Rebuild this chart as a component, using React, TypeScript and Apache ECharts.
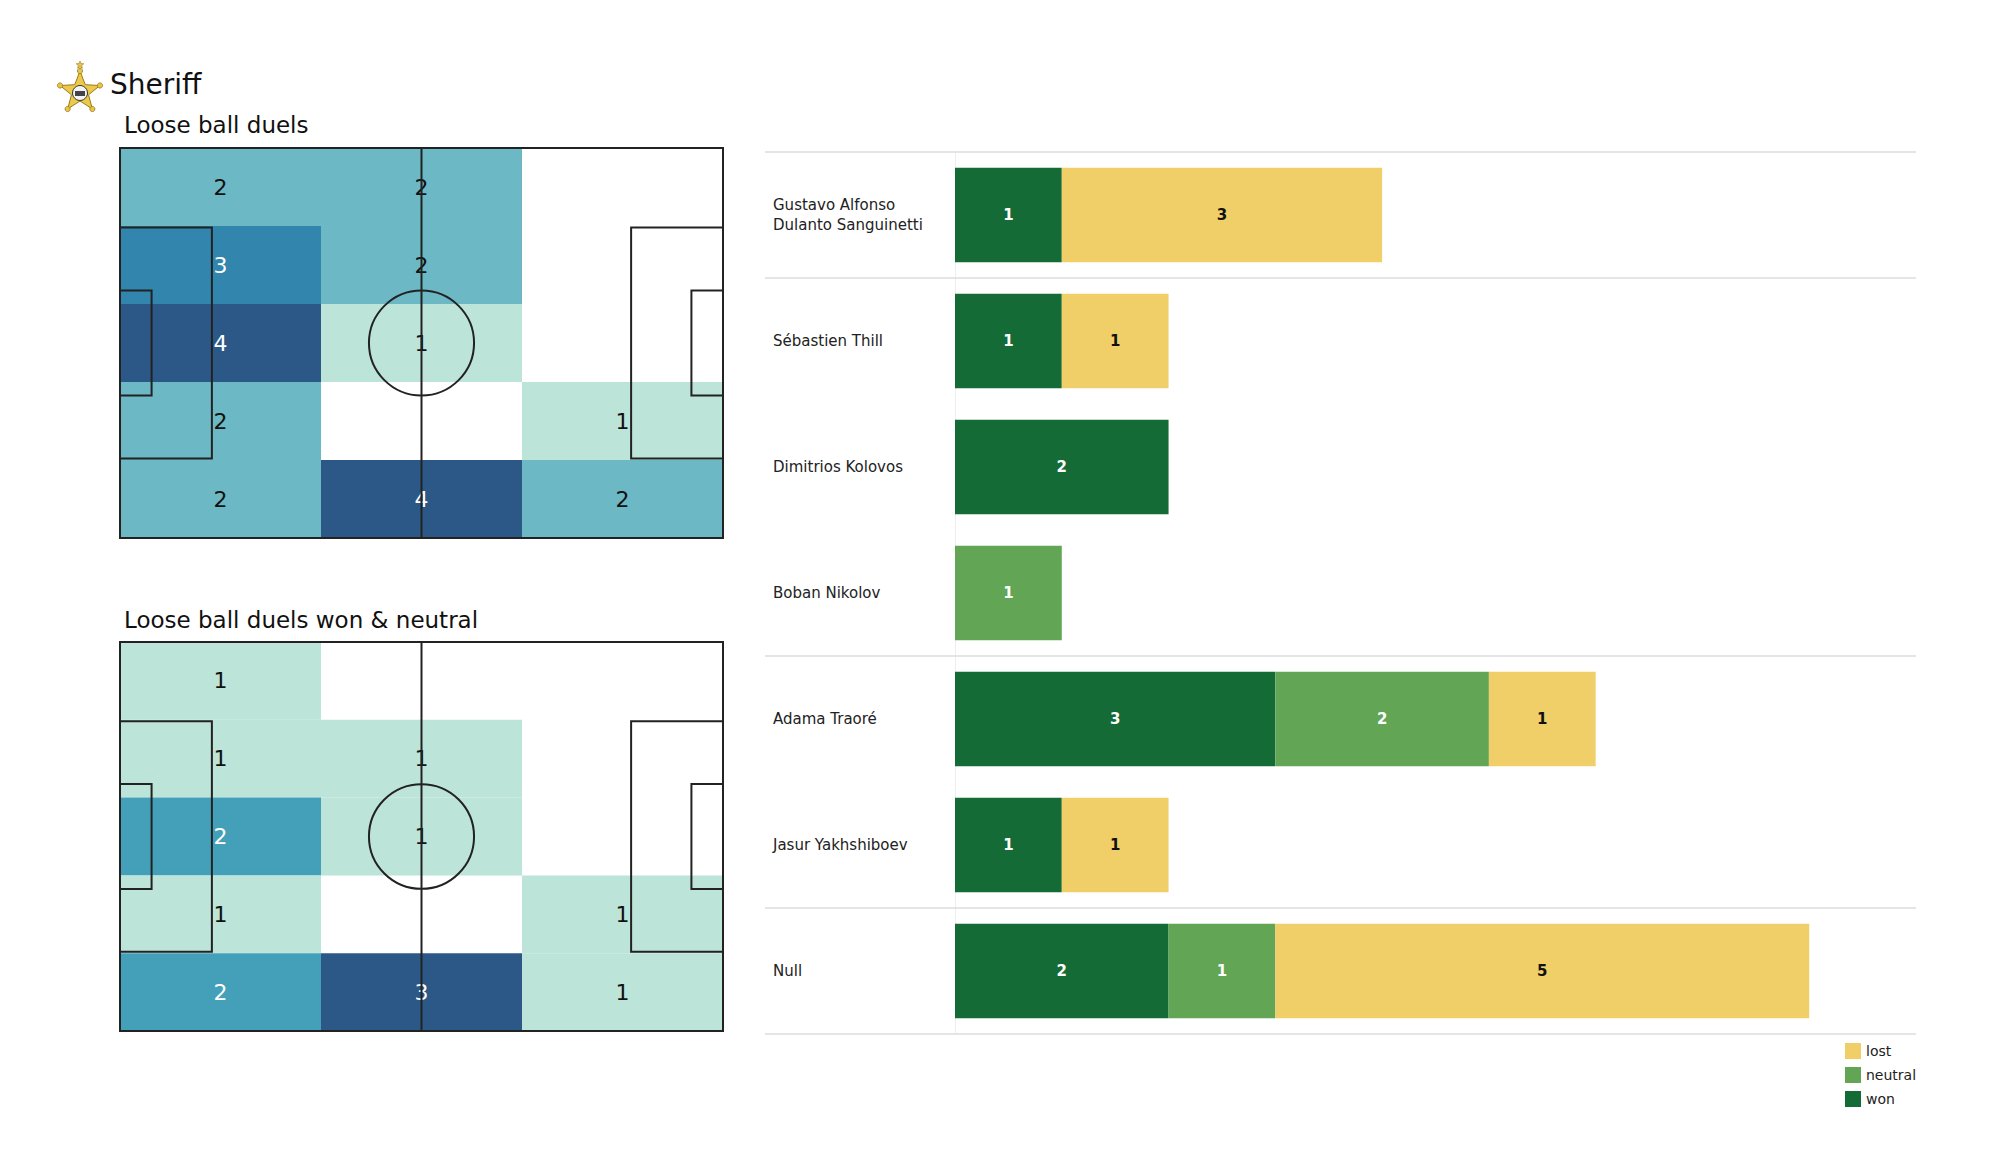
import React, { useEffect, useRef } from "react";
import * as echarts from "echarts";

// ---------- data ----------
const TEAM = "Sheriff";
const PITCH_TITLES = ["Loose ball duels", "Loose ball duels won & neutral"];
const GRID_COLS = 3;
const GRID_ROWS = 5;
// rows top -> bottom, columns left -> right
const DUELS_ALL = [
  [2, 2, 0],
  [3, 2, 0],
  [4, 1, 0],
  [2, 0, 1],
  [2, 4, 2],
];
const DUELS_WON_NEUTRAL = [
  [1, 0, 0],
  [1, 1, 0],
  [2, 1, 0],
  [1, 0, 1],
  [2, 3, 1],
];
const PLAYERS = [
  "Gustavo Alfonso\nDulanto Sanguinetti",
  "Sébastien Thill",
  "Dimitrios Kolovos",
  "Boban Nikolov",
  "Adama Traoré",
  "Jasur Yakhshiboev",
  "Null",
];
const WON = [1, 1, 2, 0, 3, 1, 2];
const NEUTRAL = [0, 0, 0, 1, 2, 0, 1];
const LOST = [3, 1, 0, 0, 1, 1, 5];
const GROUP_ENDS = [0, 3, 5, 6];
const LEGEND_ORDER = ["lost", "neutral", "won"];
const X_MAX = 9;

// ---------- style ----------
const FONT = "DejaVu Sans";
const PITCH_L = 105;
const PITCH_W = 68;
const PEN_DEPTH = 16;
const PEN_HALF = 20.16;
const GOAL_DEPTH = 5.5;
const GOAL_HALF = 9.16;
const CIRCLE_R = 9.15;
const CMAP = ["#bce4d9", "#94cecf", "#6cb8c4", "#449fb9", "#3285ad", "#2e6f9a", "#2b5886"];
const LINE = "#222222";
const COLORS = { won: "#146b36", neutral: "#62a655", lost: "#f1cf68" };
const LABEL_COL = 190;

const toCells = (m: number[][]) => {
  const out: number[][] = [];
  m.forEach((row, r) => row.forEach((v, c) => { if (v > 0) out.push([c, r, v]); }));
  return out;
};
const maxOf = (m: number[][]) => Math.max(...m.map((r) => Math.max(...r)));

const makeCellRender = (maxV: number) => (params: any, api: any) => {
  const col = api.value(0);
  const row = api.value(1);
  const v = api.value(2);
  const cw = PITCH_L / GRID_COLS;
  const rh = PITCH_W / GRID_ROWS;
  const p0 = api.coord([col * cw, row * rh]);
  const p1 = api.coord([(col + 1) * cw, (row + 1) * rh]);
  const x = Math.min(p0[0], p1[0]);
  const y = Math.min(p0[1], p1[1]);
  const w = Math.abs(p1[0] - p0[0]);
  const h = Math.abs(p1[1] - p0[1]);
  const t = maxV > 1 ? (v - 1) / (maxV - 1) : 1;
  return {
    type: "group",
    children: [
      { type: "rect", shape: { x, y, width: w, height: h }, style: { fill: api.visual("color") } },
      {
        type: "text",
        style: {
          text: String(v),
          x: x + w / 2,
          y: y + h / 2,
          fill: t >= 0.5 ? "#ffffff" : "#111111",
          fontSize: 22,
          fontFamily: FONT,
          align: "center",
          verticalAlign: "middle",
        },
      },
    ],
  };
};

const renderPitch = (params: any, api: any) => {
  const st = { fill: "transparent", stroke: LINE, lineWidth: 2 };
  const rect = (x0: number, y0: number, x1: number, y1: number) => {
    const a = api.coord([x0, y0]);
    const b = api.coord([x1, y1]);
    return {
      type: "rect",
      shape: { x: Math.min(a[0], b[0]), y: Math.min(a[1], b[1]), width: Math.abs(b[0] - a[0]), height: Math.abs(b[1] - a[1]) },
      style: st,
    };
  };
  const h0 = api.coord([PITCH_L / 2, 0]);
  const h1 = api.coord([PITCH_L / 2, PITCH_W]);
  const cc = api.coord([PITCH_L / 2, PITCH_W / 2]);
  const r = api.size([CIRCLE_R, CIRCLE_R]);
  const pbY0 = PITCH_W / 2 - PEN_HALF;
  const pbY1 = PITCH_W / 2 + PEN_HALF;
  const gaY0 = PITCH_W / 2 - GOAL_HALF;
  const gaY1 = PITCH_W / 2 + GOAL_HALF;
  return {
    type: "group",
    children: [
      { type: "ellipse", shape: { cx: cc[0], cy: cc[1], rx: r[0], ry: r[1] }, style: st },
      { type: "line", shape: { x1: h0[0], y1: h0[1], x2: h1[0], y2: h1[1] }, style: st },
      rect(0, pbY0, PEN_DEPTH, pbY1),
      rect(PITCH_L - PEN_DEPTH, pbY0, PITCH_L, pbY1),
      rect(0, gaY0, GOAL_DEPTH, gaY1),
      rect(PITCH_L - GOAL_DEPTH, gaY0, PITCH_L, gaY1),
      rect(0, 0, PITCH_L, PITCH_W),
    ],
  };
};

const renderSeparator = (params: any, api: any) => {
  const idx = api.value(1);
  const side = api.value(2);
  const p = api.coord([0, idx]);
  const band = api.size([0, 1])[1];
  const y = p[1] + (side * band) / 2;
  const xEnd = api.coord([X_MAX, idx])[0];
  return {
    type: "line",
    shape: { x1: p[0] - LABEL_COL, y1: y, x2: xEnd, y2: y },
    style: { stroke: "#dddddd", lineWidth: 1.5 },
  };
};

const starPoints = (cx: number, cy: number, R: number, r: number) => {
  const pts: number[][] = [];
  for (let i = 0; i < 10; i++) {
    const a = (Math.PI / 5) * i - Math.PI / 2;
    const rad = i % 2 === 0 ? R : r;
    pts.push([cx + rad * Math.cos(a), cy + rad * Math.sin(a)]);
  }
  return pts;
};

const logo = () => {
  const cx = 80, cy = 92, R = 21;
  const tips = [0, 1, 2, 3, 4].map((i) => {
    const a = ((2 * Math.PI) / 5) * i - Math.PI / 2;
    return { type: "circle", shape: { cx: cx + R * Math.cos(a), cy: cy + R * Math.sin(a), r: 2.6 }, style: { fill: "#e8c547", stroke: "#9a7a1c", lineWidth: 0.8 } };
  });
  return [
    { type: "polygon", shape: { points: starPoints(cx, cy, R, 9) }, style: { fill: "#ecc94b", stroke: "#9a7a1c", lineWidth: 1 } },
    ...tips,
    { type: "circle", shape: { cx, cy: cy + 1, r: 7.5 }, style: { fill: "#f4f4f4", stroke: "#333", lineWidth: 1 } },
    { type: "rect", shape: { x: cx - 5, y: cy - 1, width: 10, height: 5 }, style: { fill: "#444" } },
    { type: "polygon", shape: { points: starPoints(cx, 65, 4, 1.8) }, style: { fill: "#e8c547", stroke: "#9a7a1c", lineWidth: 0.6 } },
  ];
};

export default function App() {
  const ref = useRef<HTMLDivElement>(null);
  useEffect(() => {
    if (!ref.current) return;
    const chart = echarts.init(ref.current, undefined, { renderer: "svg" });
    const cells1 = toCells(DUELS_ALL);
    const cells2 = toCells(DUELS_WON_NEUTRAL);
    const max1 = maxOf(DUELS_ALL);
    const max2 = maxOf(DUELS_WON_NEUTRAL);
    const barLabel = (color: string) => ({
      show: true,
      position: "inside",
      formatter: (p: any) => (p.value ? String(p.value) : ""),
      color,
      fontWeight: "bold",
      fontSize: 15,
      fontFamily: FONT,
    });
    const sepData = [[0, 0, -1], ...GROUP_ENDS.map((i) => [0, i, 1])];
    const option: any = {
      animation: false,
      backgroundColor: "#ffffff",
      textStyle: { fontFamily: FONT },
      grid: [
        { left: 120, top: 148, width: 603, height: 390 },
        { left: 120, top: 642, width: 603, height: 389 },
        { left: 955, top: 152, width: 961, height: 882 },
      ],
      xAxis: [
        { type: "value", gridIndex: 0, min: 0, max: PITCH_L, show: false },
        { type: "value", gridIndex: 1, min: 0, max: PITCH_L, show: false },
        { type: "value", gridIndex: 2, min: 0, max: X_MAX, show: false },
      ],
      yAxis: [
        { type: "value", gridIndex: 0, min: 0, max: PITCH_W, inverse: true, show: false },
        { type: "value", gridIndex: 1, min: 0, max: PITCH_W, inverse: true, show: false },
        {
          type: "category",
          gridIndex: 2,
          data: PLAYERS,
          inverse: true,
          axisTick: { show: false },
          axisLine: { show: true, lineStyle: { color: "#eeeeee", width: 1 } },
          splitLine: { show: false },
          axisLabel: {
            align: "left",
            margin: 182,
            fontSize: 15,
            lineHeight: 20,
            color: "#222222",
            fontFamily: FONT,
          },
        },
      ],
      visualMap: [
        { type: "continuous", show: false, seriesIndex: 0, dimension: 2, min: 1, max: max1, inRange: { color: CMAP } },
        { type: "continuous", show: false, seriesIndex: 2, dimension: 2, min: 1, max: max2, inRange: { color: CMAP } },
      ],
      legend: {
        data: LEGEND_ORDER,
        orient: "vertical",
        left: 1840,
        top: 1038,
        itemWidth: 16,
        itemHeight: 16,
        itemGap: 8,
        icon: "rect",
        selectedMode: false,
        textStyle: { fontSize: 14, color: "#222222", fontFamily: FONT },
      },
      series: [
        { type: "custom", xAxisIndex: 0, yAxisIndex: 0, data: cells1, renderItem: makeCellRender(max1), z: 2, silent: true },
        { type: "custom", xAxisIndex: 0, yAxisIndex: 0, data: [[PITCH_L / 2, PITCH_W / 2]], renderItem: renderPitch, z: 5, silent: true },
        { type: "custom", xAxisIndex: 1, yAxisIndex: 1, data: cells2, renderItem: makeCellRender(max2), z: 2, silent: true },
        { type: "custom", xAxisIndex: 1, yAxisIndex: 1, data: [[PITCH_L / 2, PITCH_W / 2]], renderItem: renderPitch, z: 5, silent: true },
        { type: "bar", name: "won", stack: "total", xAxisIndex: 2, yAxisIndex: 2, data: WON, barWidth: "75%", itemStyle: { color: COLORS.won }, label: barLabel("#ffffff") },
        { type: "bar", name: "neutral", stack: "total", xAxisIndex: 2, yAxisIndex: 2, data: NEUTRAL, barWidth: "75%", itemStyle: { color: COLORS.neutral }, label: barLabel("#ffffff") },
        { type: "bar", name: "lost", stack: "total", xAxisIndex: 2, yAxisIndex: 2, data: LOST, barWidth: "75%", itemStyle: { color: COLORS.lost }, label: barLabel("#111111") },
        { type: "custom", xAxisIndex: 2, yAxisIndex: 2, data: sepData, encode: { x: 0, y: 1 }, renderItem: renderSeparator, z: 1, silent: true },
      ],
      graphic: [
        ...logo(),
        { type: "text", style: { text: TEAM, x: 110, y: 84, fontSize: 28, fontFamily: FONT, fill: "#111111", verticalAlign: "middle" } },
        { type: "text", style: { text: PITCH_TITLES[0], x: 124, y: 125, fontSize: 23, fontFamily: FONT, fill: "#111111", verticalAlign: "middle" } },
        { type: "text", style: { text: PITCH_TITLES[1], x: 124, y: 620, fontSize: 23, fontFamily: FONT, fill: "#111111", verticalAlign: "middle" } },
      ],
    };
    chart.setOption(option);
    return () => chart.dispose();
  }, []);
  return <div ref={ref} style={{ position: "fixed", left: 0, top: 0, width: 2000, height: 1175 }} />;
}
